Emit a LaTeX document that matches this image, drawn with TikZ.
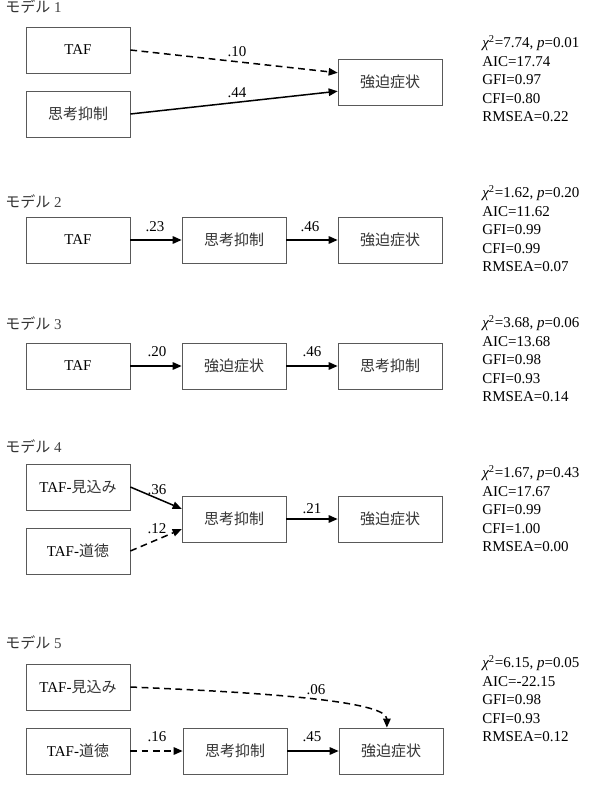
\documentclass[tikz,border=0pt]{standalone}
\usepackage{fontspec}
\setmainfont{Liberation Serif}
\newfontfamily\jafont{Noto Sans CJK JP}
\usetikzlibrary{arrows.meta}

\tikzset{
  var/.style={draw=black!65, line width=0.5pt, minimum width=69.3pt,
    minimum height=30.7pt, inner sep=0pt},
  eff/.style={-{Triangle[length=6pt,width=5pt]}, line width=1pt},
  weak/.style={eff, dash pattern=on 4.5pt off 3pt},
  coef/.style={inner sep=0pt},
  title/.style={anchor=base west, inner sep=0pt, text=black!75},
  fitstat/.style={anchor=north west, align=left, inner sep=0pt}
}
\newcommand{\ja}[1]{{\jafont\color{black!80}#1}}

\begin{document}
\begin{tikzpicture}[x=0.6667pt,y=-0.6667pt,font=\fontsize{10}{12.3}\selectfont]
  \useasboundingbox (0,0) rectangle (604,801);

  % model 1
  \node[title] (T1) at (5,13) {\ja{モデル} 1};
  \node[var] (A1) at (78,50) {TAF};
  \node[var] (B1) at (78,114) {\ja{思考抑制}};
  \node[var] (C1) at (390,82) {\ja{強迫症状}};
  \node[coef] (L1a) at (237,52) {.10};
  \node[coef] (L1b) at (237,93) {.44};
  \node[fitstat] (F1) at (482,35) {{\itshape χ}\textsuperscript{2}=7.74, {\itshape p}=0.01\\AIC=17.74\\GFI=0.97\\CFI=0.80\\RMSEA=0.22};

  \draw[weak] (A1.east) -- (C1.170);
  \draw[eff] (B1.east) -- (C1.190);

  % model 2
  \node[title] (T2) at (5,207) {\ja{モデル} 2};
  \node[var] (A2) at (78,240) {TAF};
  \node[var] (B2) at (234,240) {\ja{思考抑制}};
  \node[var] (C2) at (390,240) {\ja{強迫症状}};
  \node[coef] (L2a) at (155,227) {.23};
  \node[coef] (L2b) at (310,227) {.46};
  \node[fitstat] (F2) at (482,185) {{\itshape χ}\textsuperscript{2}=1.62, {\itshape p}=0.20\\AIC=11.62\\GFI=0.99\\CFI=0.99\\RMSEA=0.07};

  \draw[eff] (A2) -- (B2);
  \draw[eff] (B2) -- (C2);

  % model 3
  \node[title] (T3) at (5,329) {\ja{モデル} 3};
  \node[var] (A3) at (78,366) {TAF};
  \node[var] (B3) at (234,366) {\ja{強迫症状}};
  \node[var] (C3) at (390,366) {\ja{思考抑制}};
  \node[coef] (L3a) at (157,352) {.20};
  \node[coef] (L3b) at (312,352) {.46};
  \node[fitstat] (F3) at (482,315) {{\itshape χ}\textsuperscript{2}=3.68, {\itshape p}=0.06\\AIC=13.68\\GFI=0.98\\CFI=0.93\\RMSEA=0.14};

  \draw[eff] (A3) -- (B3);
  \draw[eff] (B3) -- (C3);

  % model 4
  \node[title] (T4) at (5,452) {\ja{モデル} 4};
  \node[var] (A4) at (78,487) {TAF-\ja{見込み}};
  \node[var] (D4) at (78,551) {TAF-\ja{道徳}};
  \node[var] (B4) at (234,519) {\ja{思考抑制}};
  \node[var] (C4) at (390,519) {\ja{強迫症状}};
  \node[coef] (L4a) at (157,490) {.36};
  \node[coef] (L4b) at (157,529) {.12};
  \node[coef] (L4c) at (312,509) {.21};
  \node[fitstat] (F4) at (482,465) {{\itshape χ}\textsuperscript{2}=1.67, {\itshape p}=0.43\\AIC=17.67\\GFI=0.99\\CFI=1.00\\RMSEA=0.00};

  \draw[eff] (A4.east) -- (B4.169);
  \draw[weak] (D4.east) -- (B4.191);
  \draw[eff] (B4) -- (C4);

  % model 5
  \node[title] (T5) at (5,648) {\ja{モデル} 5};
  \node[var] (A5) at (78,687) {TAF-\ja{見込み}};
  \node[var] (D5) at (78,751) {TAF-\ja{道徳}};
  \node[var] (B5) at (235,751) {\ja{思考抑制}};
  \node[var] (C5) at (391,751) {\ja{強迫症状}};
  \node[coef] (L5a) at (316,690) {.06};
  \node[coef] (L5b) at (157,737) {.16};
  \node[coef] (L5c) at (312,737) {.45};
  \node[fitstat] (F5) at (482,655) {{\itshape χ}\textsuperscript{2}=6.15, {\itshape p}=0.05\\AIC=-22.15\\GFI=0.98\\CFI=0.93\\RMSEA=0.12};

  \draw[weak] (A5.east) .. controls (250,692) and (387,700) .. (C5.100);
  \draw[weak] (D5) -- (B5);
  \draw[eff] (B5) -- (C5);
\end{tikzpicture}
\end{document}
